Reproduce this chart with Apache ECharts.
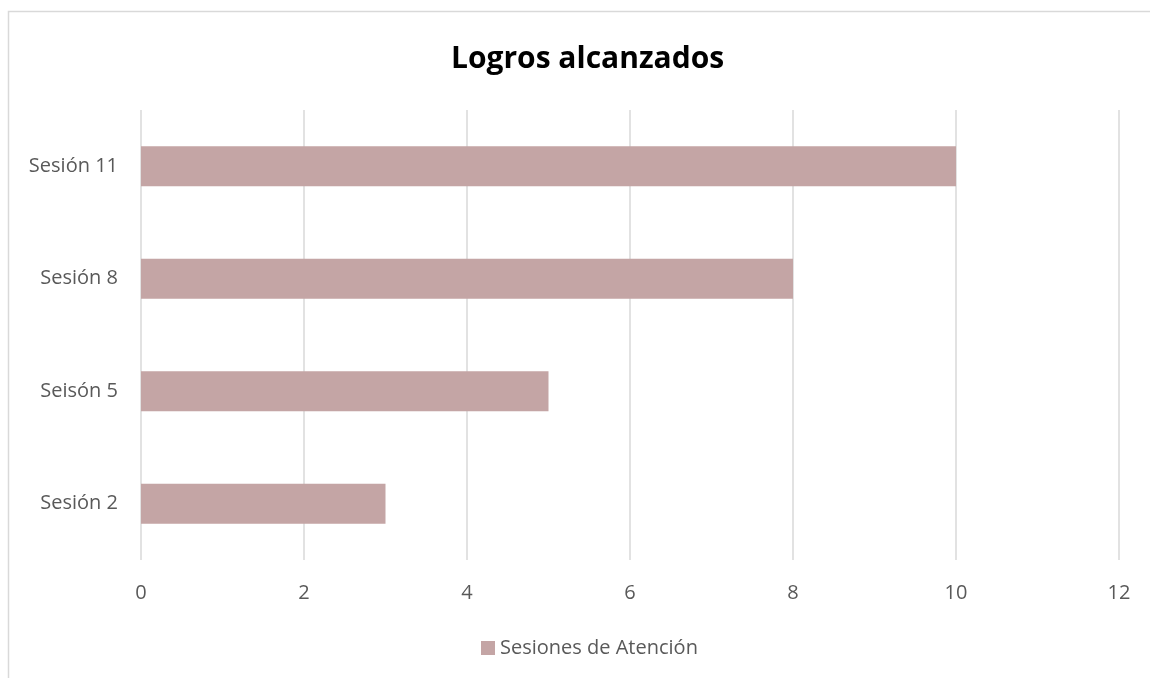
<!DOCTYPE html>
<html>
<head>
<meta charset="utf-8">
<script src="https://cdn.jsdelivr.net/npm/echarts@6/dist/echarts.min.js"></script>
<style>
html,body{margin:0;padding:0;background:#fff;}
#chart{width:1150px;height:678px;}
</style>
</head>
<body>
<div id="chart"></div>
<script>
const titleText = "Logros alcanzados";
const categories = ["Sesión 2", "Seisón 5", "Sesión 8", "Sesión 11"];
const seriesName = "Sesiones de Atención";
const values = [3, 5, 8, 10];

const chart = echarts.init(document.getElementById('chart'));
const font = "'Open Sans', 'Noto Sans', sans-serif";
chart.setOption({
  animation: false,
  backgroundColor: '#ffffff',
  graphic: [{
    type: 'rect',
    shape: {x: 8.5, y: 11.5, width: 1160, height: 700},
    style: {fill: 'none', stroke: '#d9d9d9', lineWidth: 1.5},
    silent: true
  }],
  title: {
    text: titleText,
    left: 446, top: 39,
    textStyle: {fontFamily: font, fontSize: 30, fontWeight: 'bold', color: '#000'}
  },
  legend: {
    data: [seriesName],
    left: 476, top: 633,
    icon: 'rect',
    itemWidth: 14, itemHeight: 14, itemGap: 6,
    textStyle: {fontFamily: font, fontSize: 20, color: '#595959'}
  },
  grid: {left: 141, right: 31, top: 110, bottom: 118, containLabel: false},
  xAxis: {
    type: 'value', min: 0, max: 12, interval: 2,
    axisLine: {show: false}, axisTick: {show: false},
    splitLine: {show: true, lineStyle: {color: '#d9d9d9', width: 1.5}},
    axisLabel: {fontFamily: font, fontSize: 20, color: '#595959', margin: 23}
  },
  yAxis: {
    type: 'category', data: categories,
    axisLine: {show: false}, axisTick: {show: false},
    axisLabel: {fontFamily: font, fontSize: 20, color: '#595959', margin: 23}
  },
  series: [{
    name: seriesName, type: 'bar', data: values,
    barWidth: 40,
    itemStyle: {color: '#c4a5a5'}
  }]
});
</script>
</body>
</html>
